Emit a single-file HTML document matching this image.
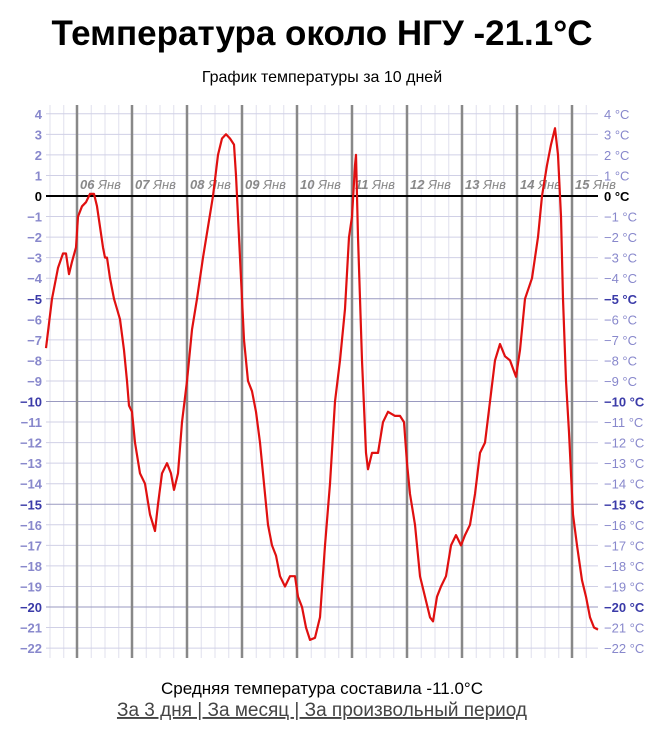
<!DOCTYPE html><html><head><meta charset="utf-8"><style>
body{margin:0;width:664px;height:728px;background:#fff;font-family:"Liberation Sans",sans-serif;overflow:hidden}
</style></head><body>
<svg id="s" width="664" height="728" xmlns="http://www.w3.org/2000/svg" font-family="Liberation Sans, sans-serif">
<text x="322" y="45" font-size="35" font-weight="bold" text-anchor="middle" fill="#000">Температура около НГУ -21.1°C</text>
<text x="322" y="82" font-size="16" text-anchor="middle" fill="#000">График температуры за 10 дней</text>
<g id="g"></g>
<text x="322" y="694" font-size="17" text-anchor="middle" fill="#000">Средняя температура составила -11.0°C</text>
<text x="322" y="716" font-size="19" text-anchor="middle" fill="#444" text-decoration="underline">За 3 дня | За месяц | За произвольный период</text>
</svg>
<script>
var g=document.getElementById('g'),h='';
function Y(t){return 196-t*20.55}
var L=46,R=598,T=105,B=658;
for(var x=L+4;x<R;x+=13.75)h+='<line x1="'+x+'" y1="'+T+'" x2="'+x+'" y2="'+B+'" stroke="#e0e0ee" stroke-width="1"/>';
for(var t=4;t>=-22;t--){var y=Y(t),b=(t%5==0&&t!=0);
h+='<line x1="'+L+'" y1="'+y+'" x2="'+R+'" y2="'+y+'" stroke="'+(b?'#9a9ac0':'#d0d0e6')+'" stroke-width="1"/>';
var c=t==0?'#000':(b?'#3a3aa8':'#8888cc');
var s=t==0?'0':String(t).replace('-','−');
h+='<text x="42" y="'+(y+5)+'" font-size="13" font-weight="bold" text-anchor="end" fill="'+c+'">'+s+'</text>';
h+='<text x="604" y="'+(y+5)+'" font-size="13" font-weight="'+(b||t==0?'bold':'normal')+'" fill="'+c+'">'+s+' °C</text>';}
var days=['06','07','08','09','10','11','12','13','14','15'];
for(var i=0;i<10;i++){var x=77+55*i;
h+='<line x1="'+x+'" y1="'+T+'" x2="'+x+'" y2="'+B+'" stroke="#888" stroke-width="2.5"/>';
h+='<text x="'+(x+3)+'" y="189" font-size="13" font-style="italic" fill="#888"><tspan font-weight="bold">'+days[i]+'</tspan> Янв</text>';}
h+='<line x1="'+L+'" y1="'+Y(0)+'" x2="'+R+'" y2="'+Y(0)+'" stroke="#000" stroke-width="2"/>';
var d=[[46,-7.4],[52,-5],[58,-3.5],[63,-2.8],[66,-2.8],[69,-3.8],[72,-3.2],[76,-2.5],[78,-1],[82,-0.5],[86,-0.3],[90,0.1],[94,0.1],[97,-0.5],[100,-1.5],[103,-2.5],[105,-3],[107,-3],[110,-4],[114,-5],[117,-5.5],[120,-6],[124,-7.5],[127,-9],[129,-10.2],[132,-10.5],[135,-12],[140,-13.5],[145,-14],[150,-15.5],[155,-16.3],[158,-15],[162,-13.5],[167,-13],[171,-13.5],[174,-14.3],[178,-13.5],[182,-11],[187,-9],[192,-6.5],[197,-5],[203,-3],[208,-1.5],[213,0],[218,2],[222,2.8],[226,3],[230,2.8],[234,2.5],[236,1],[238,-1],[241,-4],[244,-7],[248,-9],[252,-9.5],[256,-10.5],[260,-12],[264,-14],[268,-16],[272,-17],[276,-17.5],[280,-18.5],[285,-19],[290,-18.5],[295,-18.5],[298,-19.5],[302,-20],[306,-21],[310,-21.6],[315,-21.5],[320,-20.5],[325,-17],[330,-14],[335,-10],[340,-8],[345,-5.5],[349,-2],[352,-1],[355,1.5],[356,2],[358,-2],[362,-8],[366,-12.5],[368,-13.3],[372,-12.5],[378,-12.5],[383,-11],[388,-10.5],[395,-10.7],[400,-10.7],[404,-11],[407,-13],[410,-14.5],[415,-16],[420,-18.5],[425,-19.5],[430,-20.5],[433,-20.7],[437,-19.5],[441,-19],[446,-18.5],[451,-17],[456,-16.5],[461,-17],[465,-16.5],[470,-16],[475,-14.5],[480,-12.5],[485,-12],[490,-10],[495,-8],[500,-7.2],[505,-7.8],[510,-8],[516,-8.8],[520,-7.5],[525,-5],[532,-4],[538,-2],[542,0],[547,1.5],[551,2.5],[555,3.3],[558,2],[561,-1],[563,-5],[566,-9],[569,-11.5],[573,-15.5],[577,-17],[582,-18.7],[586,-19.5],[590,-20.5],[594,-21],[598,-21.1]];
h+='<polyline fill="none" stroke="#e01010" stroke-width="2.2" stroke-linejoin="round" points="'+d.map(function(p){return p[0]+','+Y(p[1]).toFixed(1)}).join(' ')+'"/>';
g.innerHTML=h;
</script>
</body></html>
